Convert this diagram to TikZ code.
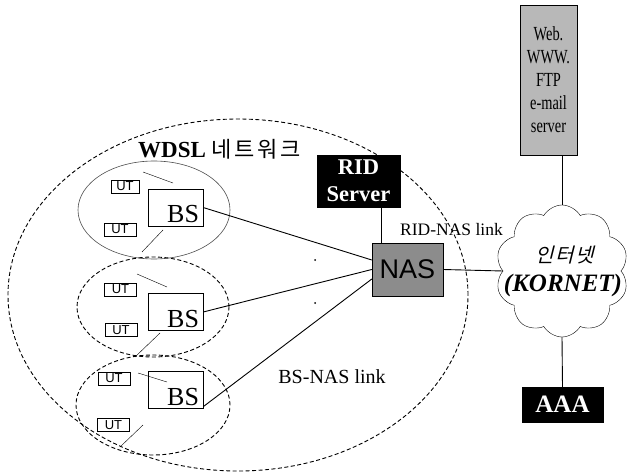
\documentclass[tikz,border=0pt]{standalone}
\usepackage{fontspec}
\setmainfont{Liberation Serif}
\setsansfont{Liberation Sans}
\newfontfamily\kofont{Noto Sans CJK KR}[LetterSpace=12]
\newfontfamily\koslant{Noto Sans CJK KR}[FakeSlant=0.25,LetterSpace=8]
\newfontfamily\narrowserif{Liberation Serif}[FakeStretch=0.72]
\usetikzlibrary{shapes.geometric,shapes.symbols}

\begin{document}
\begin{tikzpicture}[x=1pt,y=1pt,
  dashline/.style={dash pattern=on 4pt off 2.5pt,line width=0.9pt},
  cellshape/.style={ellipse,minimum width=152pt,minimum height=98pt,inner sep=0pt},
  bsbox/.style={draw,fill=white,minimum width=55pt,minimum height=37pt,inner xsep=4pt,inner ysep=0pt,
    text width=47pt,align=right,text height=30pt,text depth=0pt,font=\fontsize{26}{26}\selectfont},
  utbox/.style={draw,fill=white,minimum width=32pt,minimum height=13pt,inner sep=0pt,font=\sffamily\fontsize{13}{13}\selectfont},
  darkbox/.style={draw,fill=black,text=white,align=center,inner sep=0pt,font=\bfseries\fontsize{22.5}{27}\selectfont},
  link/.style={line width=0.9pt}]
  \useasboundingbox (0,0) rectangle (629,472);

  \draw[dashline] (238,177) ellipse [x radius=230, y radius=176];

  \node[cellshape,draw=black!70,line width=0.6pt] (cell1) at (154,262) {};
  \node[cellshape,draw,dashline,minimum height=100pt] (cell2) at (153,165) {};
  \node[cellshape,draw,dashline,minimum width=154pt,minimum height=100pt] (cell3) at (153,67) {};

  \node[bsbox] (bs1) at (175.5,264.5) {BS};
  \node[bsbox] (bs2) at (175.5,160) {BS};
  \node[bsbox] (bs3) at (175.5,82) {BS};

  \node[utbox,minimum width=28pt] (ut1a) at (125,285.5) {UT};
  \node[utbox] (ut1b) at (120,242.5) {UT};
  \node[utbox] (ut2a) at (120.5,182.5) {UT};
  \node[utbox] (ut2b) at (121,142) {UT};
  \node[utbox] (ut3a) at (114,93.5) {UT};
  \node[utbox] (ut3b) at (113.5,47) {UT};

  \coordinate (w1a) at (143,300); \coordinate (w1b) at (173,289);
  \coordinate (w1c) at (142,220); \coordinate (w1d) at (163,242);
  \coordinate (w2a) at (137,198); \coordinate (w2b) at (167,185);
  \coordinate (w2c) at (135,115); \coordinate (w2d) at (160,139);
  \coordinate (w3a) at (138,99);  \coordinate (w3b) at (167,90);
  \coordinate (w3c) at (120,25);  \coordinate (w3d) at (143,47);
  \foreach \a/\b in {w1a/w1b,w1c/w1d,w2a/w2b,w2c/w2d,w3a/w3b,w3c/w3d}{\draw (\a)--(\b);}

  \node[draw,fill=black!45,minimum width=71pt,minimum height=53pt,inner sep=0pt,
    font=\sffamily\fontsize{27}{27}\selectfont] (nas) at (407.5,202.5) {NAS};
  \node[darkbox,minimum width=83pt,minimum height=52pt] (rid) at (358.5,291) {RID\\Server};
  \node[draw,fill=black!28,minimum width=57pt,minimum height=150pt,inner sep=0pt,align=center,
    font=\narrowserif\fontsize{20}{23}\selectfont] (web) at (548.5,392) {Web.\\WWW.\\FTP\\e-mail\\server};
  \node[cloud,draw,fill=white,cloud puffs=10,cloud puff arc=120,aspect=1,cloud ignores aspect,
    minimum width=133pt,minimum height=132pt,inner sep=0pt] (net) at (562,201) {};
  \node[font=\koslant\fontsize{20}{20}\selectfont] (netko) at (565,217) {인터넷};
  \node[font=\bfseries\itshape\fontsize{25}{25}\selectfont] (netname) at (563,187) {(KORNET)};
  \node[darkbox,minimum width=81pt,minimum height=35pt,font=\bfseries\fontsize{25}{25}\selectfont] (aaa) at (562.5,67.5) {AAA};

  \draw[link] (bs1.east) -- ([yshift=9.5pt]nas.west);
  \draw[link] (bs2.east) -- (nas.west);
  \draw[link] ([yshift=2pt]bs3.south east) -- ([yshift=-9.5pt]nas.west);
  \draw[link] ([xshift=22.5pt]rid.south) -- ([xshift=-26.5pt]nas.north);
  \draw[link] (nas.east) -- (net.west);
  \draw[link] (web.south -| net.north) -- (net.north);
  \draw[link] (net.south) -- (aaa.north);
  \fill (315,212) circle (1pt);
  \fill (315,169) circle (1pt);

  \node[font=\fontsize{17.5}{17.5}\selectfont] (ridlink) at (451.5,242) {RID-NAS link};
  \node[font=\fontsize{20}{20}\selectfont] (bslink) at (332,95) {BS-NAS link};
  \node[anchor=base west,inner sep=0pt] (wdsl) at (138,314)
    {\fontsize{23}{23}\selectfont\bfseries WDSL \kofont\mdseries\fontsize{22}{22}\selectfont 네트워크};
\end{tikzpicture}
\end{document}
